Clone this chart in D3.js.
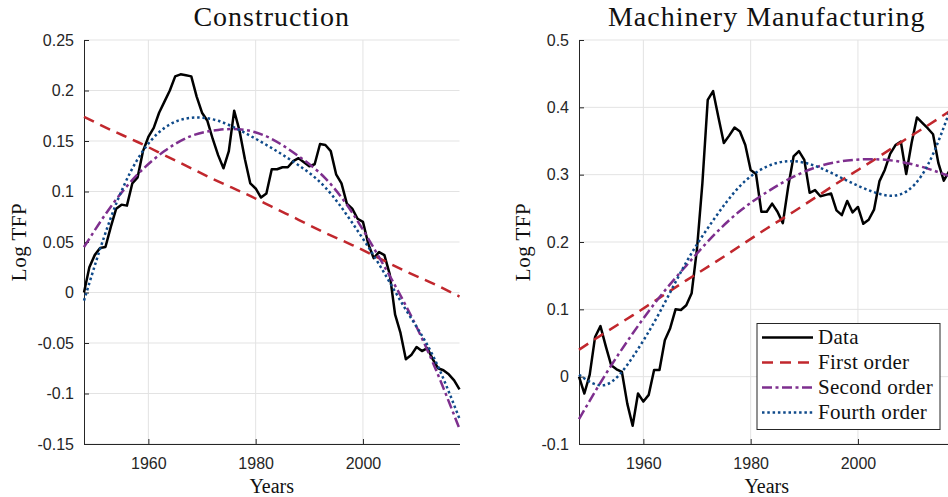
<!DOCTYPE html>
<html>
<head>
<meta charset="utf-8">
<script src="https://cdn.jsdelivr.net/npm/d3@7"></script>
<style>
body { margin: 0; background: #fff; }
.axis text { font-family: "Liberation Sans", Arial, sans-serif; font-size: 16px; fill: #262626; }
.axis path, .axis line { stroke: #262626; }
.serif { font-family: "Liberation Serif", "Times New Roman", serif; fill: #111; }
</style>
</head>
<body>
<svg id="chart" width="948" height="497"></svg>
<script>
// yearly data, 1948-2018
var years = d3.range(1948, 2019);

var constructionData = [
  0.000, 0.025, 0.037, 0.044, 0.045, 0.065, 0.083, 0.087, 0.086, 0.108,
  0.114, 0.140, 0.154, 0.163, 0.178, 0.189, 0.200, 0.214, 0.216, 0.215,
  0.214, 0.194, 0.178, 0.170, 0.152, 0.136, 0.123, 0.140, 0.180, 0.160,
  0.132, 0.108, 0.103, 0.094, 0.098, 0.122, 0.122, 0.124, 0.124, 0.130,
  0.133, 0.129, 0.125, 0.127, 0.147, 0.146, 0.140, 0.117, 0.108, 0.088,
  0.083, 0.073, 0.070, 0.048, 0.034, 0.040, 0.037, 0.018, -0.022, -0.040,
  -0.066, -0.062, -0.054, -0.058, -0.055, -0.066, -0.075, -0.077, -0.081, -0.087,
  -0.096
];

var machineryData = [
  0.000, -0.025, 0.003, 0.059, 0.075, 0.045, 0.017, 0.011, 0.007, -0.040,
  -0.073, -0.025, -0.037, -0.027, 0.010, 0.010, 0.054, 0.072, 0.100, 0.099,
  0.106, 0.124, 0.190, 0.287, 0.411, 0.424, 0.385, 0.347, 0.358, 0.370,
  0.364, 0.344, 0.307, 0.301, 0.245, 0.245, 0.257, 0.245, 0.228, 0.282,
  0.327, 0.335, 0.322, 0.273, 0.277, 0.268, 0.270, 0.272, 0.247, 0.240,
  0.261, 0.244, 0.252, 0.227, 0.233, 0.248, 0.290, 0.307, 0.331, 0.344,
  0.349, 0.301, 0.347, 0.385, 0.377, 0.369, 0.360, 0.317, 0.291, 0.305,
  0.315
];

// fitted curves, read every 5 years
var fitYears = [1948, 1953, 1958, 1963, 1968, 1973, 1978, 1983, 1988, 1993, 1998, 2003, 2008, 2013, 2018];

var constructionFirst  = [0.174, 0.161, 0.149, 0.136, 0.123, 0.110, 0.098, 0.085, 0.072, 0.059, 0.047, 0.034, 0.021, 0.009, -0.004];
var constructionSecond = [0.045, 0.085, 0.117, 0.140, 0.155, 0.161, 0.161, 0.152, 0.135, 0.113, 0.079, 0.035, -0.013, -0.069, -0.135];
var constructionFourth = [-0.008, 0.074, 0.132, 0.163, 0.173, 0.170, 0.158, 0.143, 0.126, 0.104, 0.069, 0.028, -0.017, -0.062, -0.125];

var machineryFirst  = [0.040, 0.066, 0.091, 0.117, 0.143, 0.168, 0.194, 0.220, 0.245, 0.271, 0.297, 0.322, 0.348, 0.373, 0.399];
var machinerySecond = [-0.063, 0.004, 0.064, 0.118, 0.165, 0.209, 0.246, 0.274, 0.297, 0.313, 0.321, 0.323, 0.319, 0.309, 0.295];
var machineryFourth = [0.003, -0.012, 0.029, 0.095, 0.170, 0.232, 0.283, 0.312, 0.320, 0.310, 0.291, 0.274, 0.271, 0.314, 0.415];

var xTicks = [1960, 1980, 2000];
var constructionTicks = [-0.15, -0.1, -0.05, 0, 0.05, 0.1, 0.15, 0.2, 0.25];
var machineryTicks = [-0.1, 0, 0.1, 0.2, 0.3, 0.4, 0.5];

var legendNames = ["Data", "First order", "Second order", "Fourth order"];

var styles = [
  { color: "#000000", width: 2.5, dash: null },
  { color: "#c1272d", width: 2.5, dash: "11,7" },
  { color: "#7e2f8e", width: 2.5, dash: "10,3.5,3,3.5" },
  { color: "#0f4a8a", width: 2.5, dash: "2.5,2.8" }
];

var svg = d3.select("#chart");
var plotTop = 40, plotBottom = 444, panelWidth = 375.5;

function drawPanel(left, labelX, yDomain, yTicks, title, dataVals, fits, withLegend) {
  var x = d3.scaleLinear().domain([1948, 2018]).range([left, left + panelWidth]);
  var y = d3.scaleLinear().domain(yDomain).range([plotBottom, plotTop]);
  var g = svg.append("g");

  // grid
  g.selectAll(".hg").data(yTicks).enter().append("line")
    .attr("x1", left).attr("x2", left + panelWidth)
    .attr("y1", function(d) { return y(d); }).attr("y2", function(d) { return y(d); })
    .attr("stroke", "#e3e3e3").attr("stroke-width", 1);
  g.selectAll(".vg").data(xTicks).enter().append("line")
    .attr("x1", function(d) { return x(d); }).attr("x2", function(d) { return x(d); })
    .attr("y1", plotTop).attr("y2", plotBottom)
    .attr("stroke", "#e3e3e3").attr("stroke-width", 1);

  // axes
  g.append("g").attr("class", "axis")
    .attr("transform", "translate(0," + plotBottom + ")")
    .call(d3.axisBottom(x).tickValues(xTicks).tickFormat(d3.format("d"))
      .tickSize(-5).tickSizeOuter(0).tickPadding(14));
  g.append("g").attr("class", "axis")
    .attr("transform", "translate(" + left + ",0)")
    .call(d3.axisLeft(y).tickValues(yTicks)
      .tickFormat(function(d) { return String(+d.toFixed(2)); })
      .tickSize(-5).tickSizeOuter(0).tickPadding(10));

  // title and labels
  g.append("text").attr("class", "serif")
    .attr("x", left + panelWidth / 2).attr("y", 26)
    .attr("text-anchor", "middle").attr("font-size", 28)
    .attr("letter-spacing", 1)
    .text(title);
  g.append("text").attr("class", "serif")
    .attr("x", left + panelWidth / 2).attr("y", 493)
    .attr("text-anchor", "middle").attr("font-size", 20)
    .text("Years");
  g.append("text").attr("class", "serif")
    .attr("transform", "translate(" + labelX + "," + ((plotTop + plotBottom) / 2) + ") rotate(-90)")
    .attr("text-anchor", "middle").attr("font-size", 21)
    .attr("letter-spacing", 0.5)
    .text("Log TFP");

  // data
  var dataLine = d3.line()
    .x(function(d, i) { return x(years[i]); })
    .y(function(d) { return y(d); });
  g.append("path").datum(dataVals)
    .attr("d", dataLine)
    .attr("fill", "none")
    .attr("stroke", styles[0].color)
    .attr("stroke-width", styles[0].width)
    .attr("stroke-linejoin", "round");

  // fits, drawn over the data
  var fitLine = d3.line()
    .x(function(d, i) { return x(fitYears[i]); })
    .y(function(d) { return y(d); })
    .curve(d3.curveNatural);
  fits.forEach(function(f, k) {
    var s = styles[k + 1];
    g.append("path").datum(f)
      .attr("d", fitLine)
      .attr("fill", "none")
      .attr("stroke", s.color)
      .attr("stroke-width", s.width)
      .attr("stroke-dasharray", s.dash);
  });

  if (withLegend) {
    var lg = g.append("g").attr("transform", "translate(757,323.5)");
    lg.append("rect").attr("width", 183).attr("height", 106)
      .attr("fill", "#fff").attr("stroke", "#262626").attr("stroke-width", 1);
    legendNames.forEach(function(name, i) {
      var yy = 14 + i * 25;
      lg.append("line").attr("x1", 5).attr("x2", 56).attr("y1", yy).attr("y2", yy)
        .attr("stroke", styles[i].color)
        .attr("stroke-width", styles[i].width)
        .attr("stroke-dasharray", styles[i].dash);
      lg.append("text").attr("class", "serif")
        .attr("x", 61).attr("y", yy + 6).attr("font-size", 21)
        .attr("letter-spacing", 0.3)
        .text(name);
    });
  }
}

drawPanel(84, 26, [-0.15, 0.25], constructionTicks, "Construction", constructionData,
  [constructionFirst, constructionSecond, constructionFourth], false);
drawPanel(579, 530, [-0.1, 0.5], machineryTicks, "Machinery Manufacturing", machineryData,
  [machineryFirst, machinerySecond, machineryFourth], true);
</script>
</body>
</html>
